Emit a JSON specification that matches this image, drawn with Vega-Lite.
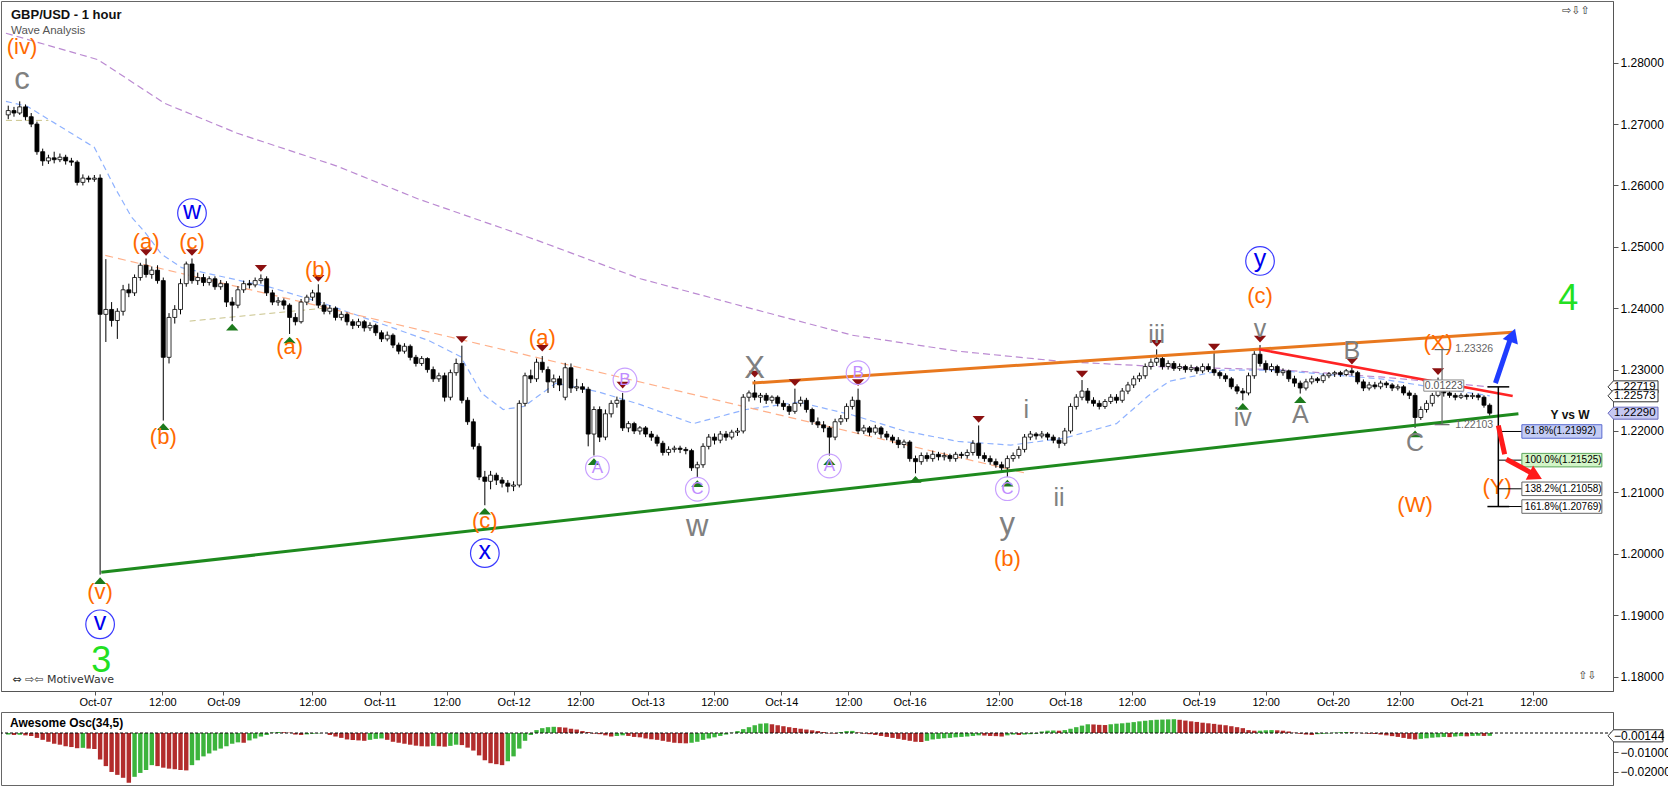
{
  "$schema": "https://vega.github.io/schema/vega-lite/v6.json",
  "padding": 0,
  "background": "#ffffff",
  "spacing": 3,
  "resolve": {"scale": {"color": "independent", "fill": "independent", "stroke": "independent"}},
  "config": {
    "view": {"stroke": "#666666"},
    "axis": {"labelFont": "Liberation Sans", "labelFontSize": 11, "labelColor": "#000000", "domainColor": "#555555", "tickColor": "#555555", "grid": false, "title": null},
    "text": {"font": "Liberation Sans"}
  },
  "datasets": {
    "bars": [
      {"i":-16,"o":1.2715,"h":1.2730,"l":1.2708,"c":1.2722,"ao":-0.0008},
      {"i":-15,"o":1.2722,"h":1.2728,"l":1.2712,"c":1.2718,"ao":-0.0010},
      {"i":-14,"o":1.2718,"h":1.2737,"l":1.2715,"c":1.2728,"ao":-0.0009},
      {"i":-13,"o":1.2728,"h":1.2732,"l":1.2706,"c":1.2712,"ao":-0.0012},
      {"i":-12,"o":1.2712,"h":1.2718,"l":1.2695,"c":1.2700,"ao":-0.0015},
      {"i":-11,"o":1.2700,"h":1.2704,"l":1.2650,"c":1.2655,"ao":-0.0025},
      {"i":-10,"o":1.2655,"h":1.2660,"l":1.2632,"c":1.2640,"ao":-0.0035},
      {"i":-9,"o":1.2640,"h":1.2650,"l":1.2635,"c":1.2645,"ao":-0.0045},
      {"i":-8,"o":1.2645,"h":1.2655,"l":1.2636,"c":1.2642,"ao":-0.0055},
      {"i":-7,"o":1.2642,"h":1.2652,"l":1.2638,"c":1.2646,"ao":-0.0060},
      {"i":-6,"o":1.2646,"h":1.2650,"l":1.2634,"c":1.2640,"ao":-0.0068},
      {"i":-5,"o":1.2640,"h":1.2645,"l":1.2632,"c":1.2638,"ao":-0.0072},
      {"i":-4,"o":1.2638,"h":1.2641,"l":1.2600,"c":1.2605,"ao":-0.0078},
      {"i":-3,"o":1.2605,"h":1.2618,"l":1.2600,"c":1.2612,"ao":-0.0076},
      {"i":-2,"o":1.2612,"h":1.2616,"l":1.2605,"c":1.2610,"ao":-0.0080},
      {"i":-1,"o":1.2610,"h":1.2617,"l":1.2606,"c":1.2612,"ao":-0.0082},
      {"i":0,"o":1.2612,"h":1.2618,"l":1.1966,"c":1.2390,"ao":-0.0136},
      {"i":1,"o":1.2390,"h":1.2480,"l":1.2345,"c":1.2398,"ao":-0.0170},
      {"i":2,"o":1.2398,"h":1.2410,"l":1.2370,"c":1.2380,"ao":-0.0200},
      {"i":3,"o":1.2380,"h":1.2400,"l":1.2350,"c":1.2395,"ao":-0.0215},
      {"i":4,"o":1.2395,"h":1.2438,"l":1.2388,"c":1.2430,"ao":-0.0230},
      {"i":5,"o":1.2430,"h":1.2440,"l":1.2418,"c":1.2425,"ao":-0.0255},
      {"i":6,"o":1.2425,"h":1.2455,"l":1.2420,"c":1.2450,"ao":-0.0225},
      {"i":7,"o":1.2450,"h":1.2474,"l":1.2445,"c":1.2470,"ao":-0.0205},
      {"i":8,"o":1.2470,"h":1.2481,"l":1.2450,"c":1.2455,"ao":-0.0190},
      {"i":9,"o":1.2455,"h":1.2468,"l":1.2448,"c":1.2462,"ao":-0.0165},
      {"i":10,"o":1.2462,"h":1.2470,"l":1.2440,"c":1.2445,"ao":-0.0170},
      {"i":11,"o":1.2445,"h":1.2450,"l":1.2217,"c":1.2320,"ao":-0.0178},
      {"i":12,"o":1.2320,"h":1.2392,"l":1.2310,"c":1.2385,"ao":-0.0183},
      {"i":13,"o":1.2385,"h":1.2405,"l":1.2375,"c":1.2398,"ao":-0.0186},
      {"i":14,"o":1.2398,"h":1.2448,"l":1.2390,"c":1.2440,"ao":-0.0190},
      {"i":15,"o":1.2440,"h":1.2476,"l":1.2435,"c":1.2472,"ao":-0.0192},
      {"i":16,"o":1.2472,"h":1.2481,"l":1.2440,"c":1.2445,"ao":-0.0165},
      {"i":17,"o":1.2445,"h":1.2458,"l":1.2438,"c":1.2450,"ao":-0.0140},
      {"i":18,"o":1.2450,"h":1.2456,"l":1.2436,"c":1.2442,"ao":-0.0120},
      {"i":19,"o":1.2442,"h":1.2452,"l":1.2437,"c":1.2448,"ao":-0.0105},
      {"i":20,"o":1.2448,"h":1.2452,"l":1.2430,"c":1.2435,"ao":-0.0090},
      {"i":21,"o":1.2435,"h":1.2446,"l":1.2430,"c":1.2440,"ao":-0.0080},
      {"i":22,"o":1.2440,"h":1.2444,"l":1.2402,"c":1.2410,"ao":-0.0068},
      {"i":23,"o":1.2410,"h":1.2418,"l":1.2379,"c":1.2405,"ao":-0.0055},
      {"i":24,"o":1.2405,"h":1.2436,"l":1.2400,"c":1.2430,"ao":-0.0048},
      {"i":25,"o":1.2430,"h":1.2445,"l":1.2425,"c":1.2440,"ao":-0.0050},
      {"i":26,"o":1.2440,"h":1.2446,"l":1.2432,"c":1.2438,"ao":-0.0038},
      {"i":27,"o":1.2438,"h":1.2450,"l":1.2434,"c":1.2445,"ao":-0.0028},
      {"i":28,"o":1.2445,"h":1.2455,"l":1.2440,"c":1.2448,"ao":-0.0018},
      {"i":29,"o":1.2448,"h":1.2452,"l":1.2420,"c":1.2425,"ao":-0.0010},
      {"i":30,"o":1.2425,"h":1.2430,"l":1.2405,"c":1.2410,"ao":0.0003},
      {"i":31,"o":1.2410,"h":1.2418,"l":1.2404,"c":1.2412,"ao":0.0005},
      {"i":32,"o":1.2412,"h":1.2416,"l":1.2398,"c":1.2405,"ao":0.0004},
      {"i":33,"o":1.2405,"h":1.2408,"l":1.2358,"c":1.2385,"ao":0.0002},
      {"i":34,"o":1.2385,"h":1.2392,"l":1.2372,"c":1.2378,"ao":-0.0008},
      {"i":35,"o":1.2378,"h":1.2415,"l":1.2375,"c":1.2410,"ao":-0.0010},
      {"i":36,"o":1.2410,"h":1.2422,"l":1.2405,"c":1.2418,"ao":-0.0007},
      {"i":37,"o":1.2418,"h":1.2430,"l":1.2412,"c":1.2425,"ao":-0.0004},
      {"i":38,"o":1.2425,"h":1.2439,"l":1.2400,"c":1.2405,"ao":-0.0002},
      {"i":39,"o":1.2405,"h":1.2410,"l":1.2390,"c":1.2395,"ao":0.0000},
      {"i":40,"o":1.2395,"h":1.2405,"l":1.2390,"c":1.2400,"ao":-0.0010},
      {"i":41,"o":1.2400,"h":1.2403,"l":1.2380,"c":1.2385,"ao":-0.0018},
      {"i":42,"o":1.2385,"h":1.2395,"l":1.2380,"c":1.2390,"ao":-0.0025},
      {"i":43,"o":1.2390,"h":1.2393,"l":1.2372,"c":1.2378,"ao":-0.0033},
      {"i":44,"o":1.2378,"h":1.2382,"l":1.2366,"c":1.2372,"ao":-0.0036},
      {"i":45,"o":1.2372,"h":1.2383,"l":1.2368,"c":1.2378,"ao":-0.0038},
      {"i":46,"o":1.2378,"h":1.2381,"l":1.2362,"c":1.2368,"ao":-0.0040},
      {"i":47,"o":1.2368,"h":1.2377,"l":1.2363,"c":1.2372,"ao":-0.0035},
      {"i":48,"o":1.2372,"h":1.2375,"l":1.2355,"c":1.2360,"ao":-0.0030},
      {"i":49,"o":1.2360,"h":1.2364,"l":1.2345,"c":1.2350,"ao":-0.0028},
      {"i":50,"o":1.2350,"h":1.2362,"l":1.2346,"c":1.2356,"ao":-0.0035},
      {"i":51,"o":1.2356,"h":1.2359,"l":1.2335,"c":1.2340,"ao":-0.0045},
      {"i":52,"o":1.2340,"h":1.2344,"l":1.2325,"c":1.2330,"ao":-0.0050},
      {"i":53,"o":1.2330,"h":1.2343,"l":1.2326,"c":1.2338,"ao":-0.0055},
      {"i":54,"o":1.2338,"h":1.2341,"l":1.2315,"c":1.2320,"ao":-0.0060},
      {"i":55,"o":1.2320,"h":1.2324,"l":1.2305,"c":1.2310,"ao":-0.0065},
      {"i":56,"o":1.2310,"h":1.2322,"l":1.2306,"c":1.2318,"ao":-0.0068},
      {"i":57,"o":1.2318,"h":1.2320,"l":1.2295,"c":1.2300,"ao":-0.0069},
      {"i":58,"o":1.2300,"h":1.2305,"l":1.2280,"c":1.2285,"ao":-0.0066},
      {"i":59,"o":1.2285,"h":1.2295,"l":1.2280,"c":1.2290,"ao":-0.0068},
      {"i":60,"o":1.2290,"h":1.2295,"l":1.2248,"c":1.2255,"ao":-0.0070},
      {"i":61,"o":1.2255,"h":1.2300,"l":1.2250,"c":1.2295,"ao":-0.0066},
      {"i":62,"o":1.2295,"h":1.2318,"l":1.2290,"c":1.2310,"ao":-0.0060},
      {"i":63,"o":1.2310,"h":1.2339,"l":1.2245,"c":1.2250,"ao":-0.0062},
      {"i":64,"o":1.2250,"h":1.2255,"l":1.2210,"c":1.2215,"ao":-0.0075},
      {"i":65,"o":1.2215,"h":1.2220,"l":1.2170,"c":1.2175,"ao":-0.0090},
      {"i":66,"o":1.2175,"h":1.2180,"l":1.2120,"c":1.2125,"ao":-0.0115},
      {"i":67,"o":1.2125,"h":1.2135,"l":1.2079,"c":1.2118,"ao":-0.0140},
      {"i":68,"o":1.2118,"h":1.2135,"l":1.2105,"c":1.2128,"ao":-0.0155},
      {"i":69,"o":1.2128,"h":1.2132,"l":1.2112,"c":1.2120,"ao":-0.0160},
      {"i":70,"o":1.2120,"h":1.2125,"l":1.2108,"c":1.2115,"ao":-0.0165},
      {"i":71,"o":1.2115,"h":1.2120,"l":1.2100,"c":1.2110,"ao":-0.0145},
      {"i":72,"o":1.2110,"h":1.2118,"l":1.2102,"c":1.2112,"ao":-0.0120},
      {"i":73,"o":1.2112,"h":1.2250,"l":1.2108,"c":1.2245,"ao":-0.0080},
      {"i":74,"o":1.2245,"h":1.2295,"l":1.2240,"c":1.2290,"ao":-0.0040},
      {"i":75,"o":1.2290,"h":1.2300,"l":1.2278,"c":1.2285,"ao":-0.0010},
      {"i":76,"o":1.2285,"h":1.2318,"l":1.2280,"c":1.2312,"ao":0.0015},
      {"i":77,"o":1.2312,"h":1.2322,"l":1.2295,"c":1.2300,"ao":0.0025},
      {"i":78,"o":1.2300,"h":1.2305,"l":1.2262,"c":1.2280,"ao":0.0030},
      {"i":79,"o":1.2280,"h":1.2292,"l":1.2270,"c":1.2285,"ao":0.0032},
      {"i":80,"o":1.2285,"h":1.2290,"l":1.2265,"c":1.2275,"ao":0.0030},
      {"i":81,"o":1.2255,"h":1.2311,"l":1.2250,"c":1.2303,"ao":0.0028},
      {"i":82,"o":1.2303,"h":1.2310,"l":1.2262,"c":1.2270,"ao":0.0022},
      {"i":83,"o":1.2270,"h":1.2285,"l":1.2265,"c":1.2272,"ao":0.0018},
      {"i":84,"o":1.2272,"h":1.2278,"l":1.2262,"c":1.2268,"ao":0.0010},
      {"i":85,"o":1.2268,"h":1.2272,"l":1.2175,"c":1.2195,"ao":0.0005},
      {"i":86,"o":1.2195,"h":1.2240,"l":1.2160,"c":1.2235,"ao":-0.0003},
      {"i":87,"o":1.2235,"h":1.2240,"l":1.2182,"c":1.2190,"ao":-0.0006},
      {"i":88,"o":1.2190,"h":1.2235,"l":1.2185,"c":1.2228,"ao":-0.0012},
      {"i":89,"o":1.2228,"h":1.2250,"l":1.2222,"c":1.2245,"ao":-0.0018},
      {"i":90,"o":1.2245,"h":1.2256,"l":1.2238,"c":1.2250,"ao":-0.0015},
      {"i":91,"o":1.2250,"h":1.2262,"l":1.2200,"c":1.2205,"ao":-0.0012},
      {"i":92,"o":1.2205,"h":1.2216,"l":1.2198,"c":1.2212,"ao":-0.0015},
      {"i":93,"o":1.2212,"h":1.2215,"l":1.2195,"c":1.2200,"ao":-0.0020},
      {"i":94,"o":1.2200,"h":1.2208,"l":1.2194,"c":1.2205,"ao":-0.0022},
      {"i":95,"o":1.2205,"h":1.2208,"l":1.2190,"c":1.2195,"ao":-0.0028},
      {"i":96,"o":1.2195,"h":1.2200,"l":1.2184,"c":1.2190,"ao":-0.0032},
      {"i":97,"o":1.2190,"h":1.2194,"l":1.2175,"c":1.2180,"ao":-0.0035},
      {"i":98,"o":1.2180,"h":1.2184,"l":1.2160,"c":1.2165,"ao":-0.0040},
      {"i":99,"o":1.2165,"h":1.2175,"l":1.2160,"c":1.2170,"ao":-0.0045},
      {"i":100,"o":1.2170,"h":1.2176,"l":1.2165,"c":1.2172,"ao":-0.0050},
      {"i":101,"o":1.2172,"h":1.2176,"l":1.2164,"c":1.2170,"ao":-0.0052},
      {"i":102,"o":1.2170,"h":1.2174,"l":1.2162,"c":1.2168,"ao":-0.0053},
      {"i":103,"o":1.2168,"h":1.2171,"l":1.2135,"c":1.2140,"ao":-0.0050},
      {"i":104,"o":1.2140,"h":1.2150,"l":1.2124,"c":1.2145,"ao":-0.0045},
      {"i":105,"o":1.2145,"h":1.2180,"l":1.2140,"c":1.2175,"ao":-0.0035},
      {"i":106,"o":1.2175,"h":1.2195,"l":1.2170,"c":1.2190,"ao":-0.0028},
      {"i":107,"o":1.2190,"h":1.2196,"l":1.2178,"c":1.2185,"ao":-0.0022},
      {"i":108,"o":1.2185,"h":1.2200,"l":1.2180,"c":1.2195,"ao":-0.0015},
      {"i":109,"o":1.2195,"h":1.2200,"l":1.2184,"c":1.2190,"ao":-0.0008},
      {"i":110,"o":1.2190,"h":1.2202,"l":1.2186,"c":1.2198,"ao":0.0002},
      {"i":111,"o":1.2198,"h":1.2205,"l":1.2192,"c":1.2200,"ao":0.0010},
      {"i":112,"o":1.2200,"h":1.2260,"l":1.2196,"c":1.2255,"ao":0.0020},
      {"i":113,"o":1.2255,"h":1.2266,"l":1.2248,"c":1.2262,"ao":0.0030},
      {"i":114,"o":1.2262,"h":1.2283,"l":1.2250,"c":1.2255,"ao":0.0040},
      {"i":115,"o":1.2255,"h":1.2262,"l":1.2246,"c":1.2258,"ao":0.0048},
      {"i":116,"o":1.2258,"h":1.2262,"l":1.2244,"c":1.2250,"ao":0.0050},
      {"i":117,"o":1.2250,"h":1.2258,"l":1.2245,"c":1.2255,"ao":0.0045},
      {"i":118,"o":1.2255,"h":1.2258,"l":1.2240,"c":1.2245,"ao":0.0040},
      {"i":119,"o":1.2245,"h":1.2250,"l":1.2234,"c":1.2240,"ao":0.0035},
      {"i":120,"o":1.2240,"h":1.2244,"l":1.2226,"c":1.2232,"ao":0.0030},
      {"i":121,"o":1.2232,"h":1.2269,"l":1.2228,"c":1.2245,"ao":0.0026},
      {"i":122,"o":1.2245,"h":1.2256,"l":1.2240,"c":1.2250,"ao":0.0022},
      {"i":123,"o":1.2250,"h":1.2254,"l":1.2230,"c":1.2235,"ao":0.0018},
      {"i":124,"o":1.2235,"h":1.2238,"l":1.2210,"c":1.2215,"ao":0.0014},
      {"i":125,"o":1.2215,"h":1.2222,"l":1.2205,"c":1.2210,"ao":0.0010},
      {"i":126,"o":1.2210,"h":1.2216,"l":1.2198,"c":1.2205,"ao":0.0005},
      {"i":127,"o":1.2205,"h":1.2208,"l":1.2160,"c":1.2190,"ao":-0.0002},
      {"i":128,"o":1.2190,"h":1.2220,"l":1.2185,"c":1.2215,"ao":-0.0003},
      {"i":129,"o":1.2215,"h":1.2226,"l":1.2210,"c":1.2220,"ao":0.0005},
      {"i":130,"o":1.2220,"h":1.2245,"l":1.2215,"c":1.2240,"ao":0.0010},
      {"i":131,"o":1.2240,"h":1.2256,"l":1.2235,"c":1.2250,"ao":0.0011},
      {"i":132,"o":1.2250,"h":1.2269,"l":1.2195,"c":1.2200,"ao":0.0003},
      {"i":133,"o":1.2200,"h":1.2210,"l":1.2195,"c":1.2205,"ao":-0.0003},
      {"i":134,"o":1.2205,"h":1.2208,"l":1.2192,"c":1.2198,"ao":-0.0006},
      {"i":135,"o":1.2198,"h":1.2210,"l":1.2194,"c":1.2205,"ao":-0.0010},
      {"i":136,"o":1.2205,"h":1.2208,"l":1.2188,"c":1.2195,"ao":-0.0015},
      {"i":137,"o":1.2195,"h":1.2200,"l":1.2185,"c":1.2190,"ao":-0.0020},
      {"i":138,"o":1.2190,"h":1.2194,"l":1.2180,"c":1.2185,"ao":-0.0025},
      {"i":139,"o":1.2185,"h":1.2190,"l":1.2172,"c":1.2178,"ao":-0.0030},
      {"i":140,"o":1.2178,"h":1.2186,"l":1.2172,"c":1.2182,"ao":-0.0035},
      {"i":141,"o":1.2182,"h":1.2185,"l":1.2150,"c":1.2155,"ao":-0.0040},
      {"i":142,"o":1.2155,"h":1.2160,"l":1.2131,"c":1.2150,"ao":-0.0045},
      {"i":143,"o":1.2150,"h":1.2165,"l":1.2145,"c":1.2160,"ao":-0.0046},
      {"i":144,"o":1.2160,"h":1.2165,"l":1.2150,"c":1.2155,"ao":-0.0040},
      {"i":145,"o":1.2155,"h":1.2168,"l":1.2150,"c":1.2162,"ao":-0.0033},
      {"i":146,"o":1.2162,"h":1.2166,"l":1.2152,"c":1.2158,"ao":-0.0030},
      {"i":147,"o":1.2158,"h":1.2165,"l":1.2152,"c":1.2160,"ao":-0.0027},
      {"i":148,"o":1.2160,"h":1.2163,"l":1.2150,"c":1.2155,"ao":-0.0025},
      {"i":149,"o":1.2155,"h":1.2166,"l":1.2150,"c":1.2162,"ao":-0.0022},
      {"i":150,"o":1.2162,"h":1.2166,"l":1.2155,"c":1.2160,"ao":-0.0020},
      {"i":151,"o":1.2160,"h":1.2170,"l":1.2155,"c":1.2165,"ao":-0.0018},
      {"i":152,"o":1.2165,"h":1.2185,"l":1.2160,"c":1.2180,"ao":-0.0015},
      {"i":153,"o":1.2180,"h":1.2209,"l":1.2155,"c":1.2160,"ao":-0.0012},
      {"i":154,"o":1.2160,"h":1.2165,"l":1.2150,"c":1.2155,"ao":-0.0013},
      {"i":155,"o":1.2155,"h":1.2160,"l":1.2145,"c":1.2150,"ao":-0.0015},
      {"i":156,"o":1.2150,"h":1.2155,"l":1.2140,"c":1.2145,"ao":-0.0016},
      {"i":157,"o":1.2145,"h":1.2150,"l":1.2135,"c":1.2140,"ao":-0.0018},
      {"i":158,"o":1.2140,"h":1.2160,"l":1.2125,"c":1.2155,"ao":-0.0012},
      {"i":159,"o":1.2155,"h":1.2165,"l":1.2150,"c":1.2160,"ao":-0.0008},
      {"i":160,"o":1.2160,"h":1.2175,"l":1.2155,"c":1.2170,"ao":-0.0010},
      {"i":161,"o":1.2170,"h":1.2195,"l":1.2165,"c":1.2190,"ao":-0.0008},
      {"i":162,"o":1.2190,"h":1.2200,"l":1.2185,"c":1.2195,"ao":-0.0006},
      {"i":163,"o":1.2195,"h":1.2198,"l":1.2186,"c":1.2192,"ao":-0.0004},
      {"i":164,"o":1.2192,"h":1.2200,"l":1.2188,"c":1.2195,"ao":0.0008},
      {"i":165,"o":1.2195,"h":1.2198,"l":1.2185,"c":1.2190,"ao":0.0012},
      {"i":166,"o":1.2190,"h":1.2194,"l":1.2180,"c":1.2185,"ao":0.0013},
      {"i":167,"o":1.2185,"h":1.2190,"l":1.2172,"c":1.2180,"ao":0.0012},
      {"i":168,"o":1.2180,"h":1.2205,"l":1.2176,"c":1.2200,"ao":0.0015},
      {"i":169,"o":1.2200,"h":1.2245,"l":1.2196,"c":1.2240,"ao":0.0022},
      {"i":170,"o":1.2240,"h":1.2260,"l":1.2235,"c":1.2255,"ao":0.0030},
      {"i":171,"o":1.2255,"h":1.2283,"l":1.2250,"c":1.2265,"ao":0.0038},
      {"i":172,"o":1.2265,"h":1.2270,"l":1.2245,"c":1.2250,"ao":0.0045},
      {"i":173,"o":1.2250,"h":1.2255,"l":1.2240,"c":1.2245,"ao":0.0044},
      {"i":174,"o":1.2245,"h":1.2250,"l":1.2235,"c":1.2240,"ao":0.0042},
      {"i":175,"o":1.2240,"h":1.2252,"l":1.2236,"c":1.2248,"ao":0.0041},
      {"i":176,"o":1.2248,"h":1.2260,"l":1.2244,"c":1.2255,"ao":0.0045},
      {"i":177,"o":1.2255,"h":1.2260,"l":1.2245,"c":1.2250,"ao":0.0048},
      {"i":178,"o":1.2250,"h":1.2270,"l":1.2246,"c":1.2265,"ao":0.0050},
      {"i":179,"o":1.2265,"h":1.2280,"l":1.2260,"c":1.2275,"ao":0.0053},
      {"i":180,"o":1.2275,"h":1.2290,"l":1.2270,"c":1.2285,"ao":0.0056},
      {"i":181,"o":1.2285,"h":1.2295,"l":1.2280,"c":1.2290,"ao":0.0060},
      {"i":182,"o":1.2290,"h":1.2310,"l":1.2285,"c":1.2305,"ao":0.0063},
      {"i":183,"o":1.2305,"h":1.2318,"l":1.2300,"c":1.2312,"ao":0.0066},
      {"i":184,"o":1.2312,"h":1.2333,"l":1.2306,"c":1.2318,"ao":0.0068},
      {"i":185,"o":1.2318,"h":1.2322,"l":1.2300,"c":1.2305,"ao":0.0069},
      {"i":186,"o":1.2305,"h":1.2315,"l":1.2300,"c":1.2310,"ao":0.0070},
      {"i":187,"o":1.2310,"h":1.2314,"l":1.2298,"c":1.2302,"ao":0.0071},
      {"i":188,"o":1.2302,"h":1.2310,"l":1.2298,"c":1.2305,"ao":0.0068},
      {"i":189,"o":1.2305,"h":1.2308,"l":1.2295,"c":1.2300,"ao":0.0064},
      {"i":190,"o":1.2300,"h":1.2308,"l":1.2296,"c":1.2303,"ao":0.0060},
      {"i":191,"o":1.2303,"h":1.2306,"l":1.2293,"c":1.2298,"ao":0.0057},
      {"i":192,"o":1.2298,"h":1.2310,"l":1.2294,"c":1.2305,"ao":0.0053},
      {"i":193,"o":1.2305,"h":1.2310,"l":1.2296,"c":1.2300,"ao":0.0050},
      {"i":194,"o":1.2300,"h":1.2327,"l":1.2290,"c":1.2295,"ao":0.0047},
      {"i":195,"o":1.2295,"h":1.2298,"l":1.2285,"c":1.2290,"ao":0.0043},
      {"i":196,"o":1.2290,"h":1.2294,"l":1.2280,"c":1.2285,"ao":0.0040},
      {"i":197,"o":1.2285,"h":1.2288,"l":1.2268,"c":1.2272,"ao":0.0035},
      {"i":198,"o":1.2272,"h":1.2276,"l":1.2260,"c":1.2265,"ao":0.0030},
      {"i":199,"o":1.2265,"h":1.2270,"l":1.2250,"c":1.2262,"ao":0.0025},
      {"i":200,"o":1.2262,"h":1.2295,"l":1.2258,"c":1.2290,"ao":0.0015},
      {"i":201,"o":1.2290,"h":1.2330,"l":1.2285,"c":1.2325,"ao":0.0012},
      {"i":202,"o":1.2325,"h":1.2340,"l":1.2305,"c":1.2310,"ao":0.0012},
      {"i":203,"o":1.2310,"h":1.2315,"l":1.2295,"c":1.2300,"ao":0.0014},
      {"i":204,"o":1.2300,"h":1.2310,"l":1.2296,"c":1.2305,"ao":0.0015},
      {"i":205,"o":1.2305,"h":1.2308,"l":1.2290,"c":1.2295,"ao":0.0014},
      {"i":206,"o":1.2295,"h":1.2302,"l":1.2290,"c":1.2298,"ao":0.0012},
      {"i":207,"o":1.2298,"h":1.2300,"l":1.2280,"c":1.2285,"ao":0.0008},
      {"i":208,"o":1.2285,"h":1.2290,"l":1.2272,"c":1.2278,"ao":0.0002},
      {"i":209,"o":1.2278,"h":1.2282,"l":1.2261,"c":1.2270,"ao":-0.0004},
      {"i":210,"o":1.2270,"h":1.2285,"l":1.2266,"c":1.2280,"ao":-0.0008},
      {"i":211,"o":1.2280,"h":1.2290,"l":1.2276,"c":1.2285,"ao":-0.0010},
      {"i":212,"o":1.2285,"h":1.2288,"l":1.2278,"c":1.2282,"ao":-0.0006},
      {"i":213,"o":1.2282,"h":1.2294,"l":1.2278,"c":1.2290,"ao":-0.0004},
      {"i":214,"o":1.2290,"h":1.2296,"l":1.2286,"c":1.2293,"ao":-0.0002},
      {"i":215,"o":1.2293,"h":1.2298,"l":1.2288,"c":1.2295,"ao":0.0002},
      {"i":216,"o":1.2295,"h":1.2298,"l":1.2288,"c":1.2292,"ao":0.0004},
      {"i":217,"o":1.2292,"h":1.2301,"l":1.2289,"c":1.2298,"ao":0.0005},
      {"i":218,"o":1.2298,"h":1.2304,"l":1.2290,"c":1.2295,"ao":0.0004},
      {"i":219,"o":1.2295,"h":1.2298,"l":1.2276,"c":1.2280,"ao":0.0001},
      {"i":220,"o":1.2280,"h":1.2284,"l":1.2265,"c":1.2270,"ao":-0.0002},
      {"i":221,"o":1.2270,"h":1.2280,"l":1.2266,"c":1.2275,"ao":-0.0004},
      {"i":222,"o":1.2275,"h":1.2280,"l":1.2268,"c":1.2272,"ao":-0.0005},
      {"i":223,"o":1.2272,"h":1.2282,"l":1.2268,"c":1.2278,"ao":-0.0008},
      {"i":224,"o":1.2278,"h":1.2281,"l":1.2270,"c":1.2275,"ao":-0.0012},
      {"i":225,"o":1.2275,"h":1.2278,"l":1.2265,"c":1.2270,"ao":-0.0016},
      {"i":226,"o":1.2270,"h":1.2276,"l":1.2266,"c":1.2272,"ao":-0.0020},
      {"i":227,"o":1.2272,"h":1.2275,"l":1.2258,"c":1.2262,"ao":-0.0025},
      {"i":228,"o":1.2262,"h":1.2266,"l":1.2252,"c":1.2258,"ao":-0.0030},
      {"i":229,"o":1.2258,"h":1.2262,"l":1.2205,"c":1.2222,"ao":-0.0033},
      {"i":230,"o":1.2222,"h":1.2240,"l":1.2218,"c":1.2235,"ao":-0.0030},
      {"i":231,"o":1.2235,"h":1.2250,"l":1.2230,"c":1.2245,"ao":-0.0027},
      {"i":232,"o":1.2245,"h":1.2262,"l":1.2240,"c":1.2258,"ao":-0.0024},
      {"i":233,"o":1.2258,"h":1.2287,"l":1.2255,"c":1.2270,"ao":-0.0022},
      {"i":234,"o":1.2270,"h":1.2274,"l":1.2256,"c":1.2262,"ao":-0.0020},
      {"i":235,"o":1.2262,"h":1.2266,"l":1.2254,"c":1.2258,"ao":-0.0021},
      {"i":236,"o":1.2258,"h":1.2262,"l":1.2250,"c":1.2255,"ao":-0.0018},
      {"i":237,"o":1.2255,"h":1.2262,"l":1.2252,"c":1.2258,"ao":-0.0016},
      {"i":238,"o":1.2258,"h":1.2261,"l":1.2251,"c":1.2256,"ao":-0.0017},
      {"i":239,"o":1.2256,"h":1.2262,"l":1.2252,"c":1.2258,"ao":-0.0015},
      {"i":240,"o":1.2258,"h":1.2261,"l":1.2250,"c":1.2255,"ao":-0.0014},
      {"i":241,"o":1.2255,"h":1.2258,"l":1.2238,"c":1.2242,"ao":-0.0015},
      {"i":242,"o":1.2242,"h":1.2245,"l":1.2225,"c":1.2229,"ao":-0.00144}
    ],
    "ma": [
      {"i":-16.4,"v":1.2848,"k":"slow"},{"i":-0.4,"v":1.2805,"k":"slow"},{"i":11.2,"v":1.2734,"k":"slow"},{"i":23.9,"v":1.2685,"k":"slow"},
      {"i":41.1,"v":1.2632,"k":"slow"},{"i":55.4,"v":1.2578,"k":"slow"},{"i":75.7,"v":1.2512,"k":"slow"},{"i":94.1,"v":1.2448,"k":"slow"},
      {"i":113.6,"v":1.2399,"k":"slow"},{"i":131,"v":1.2356,"k":"slow"},{"i":149.4,"v":1.2330,"k":"slow"},{"i":167.8,"v":1.2313,"k":"slow"},
      {"i":186.2,"v":1.2304,"k":"slow"},{"i":204.6,"v":1.2300,"k":"slow"},{"i":223,"v":1.2288,"k":"slow"},{"i":242,"v":1.22719,"k":"slow"},
      {"i":-16.4,"v":1.2737,"k":"fast"},{"i":-12.7,"v":1.2729,"k":"fast"},{"i":-1,"v":1.2662,"k":"fast"},{"i":2.6,"v":1.2596,"k":"fast"},
      {"i":5.5,"v":1.2548,"k":"fast"},{"i":7.7,"v":1.2525,"k":"fast"},{"i":10.7,"v":1.2488,"k":"fast"},{"i":14.2,"v":1.2466,"k":"fast"},
      {"i":29.7,"v":1.2434,"k":"fast"},{"i":38.9,"v":1.2408,"k":"fast"},{"i":57.3,"v":1.2347,"k":"fast"},{"i":62.8,"v":1.2321,"k":"fast"},
      {"i":66.5,"v":1.2261,"k":"fast"},{"i":70.2,"v":1.2235,"k":"fast"},{"i":73.8,"v":1.2240,"k":"fast"},{"i":79.4,"v":1.2278,"k":"fast"},
      {"i":86.7,"v":1.2264,"k":"fast"},{"i":94.1,"v":1.2243,"k":"fast"},{"i":103.3,"v":1.2212,"k":"fast"},{"i":112.5,"v":1.2235,"k":"fast"},
      {"i":121.7,"v":1.2247,"k":"fast"},{"i":131,"v":1.2226,"k":"fast"},{"i":140.1,"v":1.2200,"k":"fast"},{"i":149.4,"v":1.2183,"k":"fast"},
      {"i":158.6,"v":1.2177,"k":"fast"},{"i":167.8,"v":1.2188,"k":"fast"},{"i":177,"v":1.2212,"k":"fast"},{"i":182.5,"v":1.2257,"k":"fast"},
      {"i":186.2,"v":1.2281,"k":"fast"},{"i":195.4,"v":1.2299,"k":"fast"},{"i":204.6,"v":1.2299,"k":"fast"},{"i":213.8,"v":1.2292,"k":"fast"},
      {"i":223,"v":1.2285,"k":"fast"},{"i":232.2,"v":1.2271,"k":"fast"},{"i":242,"v":1.22573,"k":"fast"}
    ],
    "segs": [
      {"i":0.2,"p":1.1970,"i2":247,"p2":1.2228,"k":"support"},
      {"i":113.6,"p":1.2278,"i2":246,"p2":1.2361,"k":"resist"},
      {"i":201.8,"p":1.2333,"i2":246,"p2":1.2257,"k":"red"},
      {"i":0.9,"p":1.2486,"i2":161.3,"p2":1.2131,"k":"dash"},
      {"i":-16.4,"p":1.2706,"i2":-9,"p2":1.2706,"k":"olive"},
      {"i":15.6,"p":1.2379,"i2":38.9,"p2":1.2400,"k":"olive"},
      {"i":243.5,"p":1.20769,"i2":243.5,"p2":1.22719,"k":"fib"},
      {"i":241.6,"p":1.22719,"i2":245.4,"p2":1.22719,"k":"fib"},
      {"i":241.6,"p":1.20769,"i2":245.4,"p2":1.20769,"k":"fib"},
      {"i":233.7,"p":1.22103,"i2":233.7,"p2":1.23326,"k":"meas"},
      {"i":232.4,"p":1.23326,"i2":235,"p2":1.23326,"k":"meas"},
      {"i":232.4,"p":1.22103,"i2":235,"p2":1.22103,"k":"meas"},
      {"i":243,"p":1.2278,"i2":245.6,"p2":1.2350,"k":"arrowb"},
      {"i":243.5,"p":1.2209,"i2":244.6,"p2":1.2162,"k":"arrowr"},
      {"i":244.9,"p":1.2154,"i2":249.4,"p2":1.2131,"k":"arrowr"}
    ],
    "heads": [
      {"i":246.0,"p":1.2356,"a":20,"k":"b"},
      {"i":250.0,"p":1.2127,"a":117,"k":"r"}
    ],
    "pivots": [
      {"i":8,"p":1.2481,"k":"hi"},{"i":16,"p":1.2481,"k":"hi"},{"i":28,"p":1.2455,"k":"hi"},{"i":38,"p":1.2439,"k":"hi"},
      {"i":63,"p":1.2339,"k":"hi"},{"i":77,"p":1.2325,"k":"hi"},{"i":91,"p":1.2265,"k":"hi"},{"i":114,"p":1.2283,"k":"hi"},
      {"i":121,"p":1.2269,"k":"hi"},{"i":132,"p":1.2269,"k":"hi"},{"i":153,"p":1.2209,"k":"hi"},{"i":171,"p":1.2283,"k":"hi"},
      {"i":184,"p":1.2333,"k":"hi"},{"i":194,"p":1.2327,"k":"hi"},{"i":202,"p":1.2340,"k":"hi"},{"i":218,"p":1.2304,"k":"hi"},
      {"i":233,"p":1.2287,"k":"hi"},
      {"i":0,"p":1.1966,"k":"lo"},{"i":11,"p":1.2217,"k":"lo"},{"i":23,"p":1.2379,"k":"lo"},{"i":33,"p":1.2358,"k":"lo"},
      {"i":67,"p":1.2079,"k":"lo"},{"i":86,"p":1.2160,"k":"lo"},{"i":104,"p":1.2124,"k":"lo"},{"i":127,"p":1.2160,"k":"lo"},
      {"i":142,"p":1.2131,"k":"lo"},{"i":158,"p":1.2125,"k":"lo"},{"i":199,"p":1.2250,"k":"lo"},{"i":209,"p":1.2261,"k":"lo"},
      {"i":229,"p":1.2205,"k":"lo"}
    ],
    "labels": [
      {"i":-13.6,"p":1.2825,"t":"(iv)","k":"o"},
      {"i":8,"p":1.2508,"t":"(a)","k":"o"},
      {"i":16,"p":1.2508,"t":"(c)","k":"o"},
      {"i":11,"p":1.2191,"t":"(b)","k":"o"},
      {"i":33,"p":1.2337,"t":"(a)","k":"o"},
      {"i":38,"p":1.2463,"t":"(b)","k":"o"},
      {"i":77,"p":1.2352,"t":"(a)","k":"o"},
      {"i":67,"p":1.2053,"t":"(c)","k":"o"},
      {"i":0,"p":1.1937,"t":"(v)","k":"o"},
      {"i":158,"p":1.1992,"t":"(b)","k":"o"},
      {"i":202,"p":1.2420,"t":"(c)","k":"o"},
      {"i":229,"p":1.2080,"t":"(W)","k":"o"},
      {"i":233,"p":1.2344,"t":"(X)","k":"o"},
      {"i":243.3,"p":1.2108,"t":"(Y)","k":"o"},
      {"i":-13.6,"p":1.2772,"t":"c","k":"g"},
      {"i":114,"p":1.2301,"t":"X","k":"g"},
      {"i":104,"p":1.2044,"t":"w","k":"g"},
      {"i":158,"p":1.2047,"t":"y","k":"g"},
      {"i":161.3,"p":1.2235,"t":"i","k":"g2"},
      {"i":167,"p":1.2091,"t":"ii","k":"g2"},
      {"i":184,"p":1.2356,"t":"iii","k":"g2"},
      {"i":199,"p":1.2221,"t":"iv","k":"g2"},
      {"i":202,"p":1.2366,"t":"v","k":"g2"},
      {"i":209,"p":1.2226,"t":"A","k":"g2"},
      {"i":218,"p":1.2330,"t":"B","k":"g2"},
      {"i":229,"p":1.2181,"t":"C","k":"g2"},
      {"i":16,"p":1.2555,"t":"w","k":"b"},
      {"i":67,"p":1.2001,"t":"x","k":"b"},
      {"i":0,"p":1.1885,"t":"v","k":"b"},
      {"i":202,"p":1.2477,"t":"y","k":"b"},
      {"i":86.6,"p":1.2140,"t":"A","k":"p"},
      {"i":91.4,"p":1.2283,"t":"B","k":"p"},
      {"i":104,"p":1.2105,"t":"C","k":"p"},
      {"i":127,"p":1.2143,"t":"A","k":"p"},
      {"i":132,"p":1.2295,"t":"B","k":"p"},
      {"i":158,"p":1.2106,"t":"C","k":"p"},
      {"i":0.2,"p":1.1825,"t":"3","k":"gr"},
      {"i":255.7,"p":1.2415,"t":"4","k":"gr"},
      {"i":236,"p":1.2333,"t":"1.23326","k":"m"},
      {"i":236,"p":1.2210,"t":"1.22103","k":"m"},
      {"i":234,"p":1.2274,"t":"0.01223","k":"mbox"},
      {"i":256,"p":1.2226,"t":"Y vs W","k":"yw"},
      {"i":-15.3,"p":1.1794,"t":"⇔ ⇨⇦ MotiveWave","k":"mw"},
      {"i":254.6,"p":1.2885,"t":"⇨⇩⇧","k":"mw"},
      {"i":257.4,"p":1.1801,"t":"⇧⇩","k":"mw"}
    ],
    "fib": [
      {"p":1.21992,"t":"61.8%(1.21992)","k":"b"},
      {"p":1.21525,"t":"100.0%(1.21525)","k":"g"},
      {"p":1.21058,"t":"138.2%(1.21058)","k":"w"},
      {"p":1.20769,"t":"161.8%(1.20769)","k":"w"}
    ]
  },
  "vconcat": [
    {
      "width": 1612,
      "height": 690,
      "title": {"text": "GBP/USD - 1 hour", "subtitle": "Wave Analysis", "anchor": "start", "frame": "group", "offset": -35, "dx": 10, "font": "Liberation Sans", "fontSize": 13, "fontWeight": "bold", "color": "#111111", "subtitleFont": "Liberation Sans", "subtitleFontSize": 11.5, "subtitleColor": "#555555", "subtitlePadding": 3},
      "layer": [
        {
          "data": {"name": "ma"},
          "transform": [{"filter": "datum.k == 'slow'"}],
          "mark": {"type": "line", "color": "#bb8ad2", "strokeWidth": 1.2, "strokeDash": [7, 4]},
          "encoding": {
            "x": {"field": "i", "type": "quantitative", "scale": {"domain": [-16.39, 262.6], "nice": false, "zero": false},
              "axis": {"title": null, "values": [-0.81, 10.84, 21.46, 36.97, 48.69, 60.34, 72.01, 83.61, 95.38, 106.98, 118.63, 130.28, 140.96, 156.54, 168.08, 179.68, 191.33, 202.98, 214.7, 226.35, 238.01, 249.61],
                "labelExpr": "['Oct-07','12:00','Oct-09','12:00','Oct-11','12:00','Oct-12','12:00','Oct-13','12:00','Oct-14','12:00','Oct-16','12:00','Oct-18','12:00','Oct-19','12:00','Oct-20','12:00','Oct-21','12:00'][indexof([-0.81, 10.84, 21.46, 36.97, 48.69, 60.34, 72.01, 83.61, 95.38, 106.98, 118.63, 130.28, 140.96, 156.54, 168.08, 179.68, 191.33, 202.98, 214.7, 226.35, 238.01, 249.61], datum.value)]",
                "labelOverlap": false, "tickSize": 4, "labelPadding": 1}},
            "y": {"field": "v", "type": "quantitative", "scale": {"domain": [1.17764, 1.29005], "nice": false, "zero": false},
              "axis": {"title": null, "orient": "right", "labelOverlap": false, "labelPadding": 2, "tickSize": 5, "labelFontSize": 12,
                "values": [1.18, 1.19, 1.2, 1.21, 1.22, 1.23, 1.24, 1.25, 1.26, 1.27, 1.28], "format": ".5f"}}
          }
        },
        {
          "data": {"name": "ma"},
          "transform": [{"filter": "datum.k == 'fast'"}],
          "mark": {"type": "line", "color": "#8fb2ff", "strokeWidth": 1.2, "strokeDash": [6, 4]},
          "encoding": {"x": {"field": "i", "type": "quantitative"}, "y": {"field": "v", "type": "quantitative"}}
        },
        {
          "data": {"name": "segs"},
          "transform": [{"filter": "datum.k == 'dash'"}],
          "mark": {"type": "rule", "color": "#ffb08a", "strokeWidth": 1.2, "strokeDash": [8, 5]},
          "encoding": {"x": {"field": "i", "type": "quantitative"}, "x2": {"field": "i2"}, "y": {"field": "p", "type": "quantitative"}, "y2": {"field": "p2"}}
        },
        {
          "data": {"name": "segs"},
          "transform": [{"filter": "datum.k == 'olive'"}],
          "mark": {"type": "rule", "color": "#c9c38a", "strokeWidth": 1, "strokeDash": [6, 4]},
          "encoding": {"x": {"field": "i", "type": "quantitative"}, "x2": {"field": "i2"}, "y": {"field": "p", "type": "quantitative"}, "y2": {"field": "p2"}}
        },
        {
          "data": {"name": "bars"},
          "mark": {"type": "rule", "color": "#000000", "strokeWidth": 1},
          "encoding": {"x": {"field": "i", "type": "quantitative"}, "y": {"field": "l", "type": "quantitative"}, "y2": {"field": "h"}}
        },
        {
          "data": {"name": "bars"},
          "mark": {"type": "bar", "width": 4, "stroke": "#000000", "strokeWidth": 0.8},
          "encoding": {
            "x": {"field": "i", "type": "quantitative"},
            "y": {"field": "o", "type": "quantitative"},
            "y2": {"field": "c"},
            "fill": {"condition": {"test": "datum.c >= datum.o", "value": "#ffffff"}, "value": "#000000"}
          }
        },
        {
          "data": {"name": "segs"},
          "transform": [{"filter": "datum.k == 'support'"}],
          "mark": {"type": "rule", "color": "#1e8a1e", "strokeWidth": 3},
          "encoding": {"x": {"field": "i", "type": "quantitative"}, "x2": {"field": "i2"}, "y": {"field": "p", "type": "quantitative"}, "y2": {"field": "p2"}}
        },
        {
          "data": {"name": "segs"},
          "transform": [{"filter": "datum.k == 'resist'"}],
          "mark": {"type": "rule", "color": "#e8781e", "strokeWidth": 3},
          "encoding": {"x": {"field": "i", "type": "quantitative"}, "x2": {"field": "i2"}, "y": {"field": "p", "type": "quantitative"}, "y2": {"field": "p2"}}
        },
        {
          "data": {"name": "segs"},
          "transform": [{"filter": "datum.k == 'red'"}],
          "mark": {"type": "rule", "color": "#ff2424", "strokeWidth": 2.5},
          "encoding": {"x": {"field": "i", "type": "quantitative"}, "x2": {"field": "i2"}, "y": {"field": "p", "type": "quantitative"}, "y2": {"field": "p2"}}
        },
        {
          "data": {"name": "pivots"},
          "transform": [{"filter": "datum.k == 'hi'"}],
          "mark": {"type": "point", "shape": "M-1,-0.55L1,-0.55L0,0.55Z", "filled": true, "size": 150, "color": "#8b1010", "opacity": 1, "yOffset": -6},
          "encoding": {"x": {"field": "i", "type": "quantitative"}, "y": {"field": "p", "type": "quantitative"}}
        },
        {
          "data": {"name": "pivots"},
          "transform": [{"filter": "datum.k == 'lo'"}],
          "mark": {"type": "point", "shape": "M-1,0.55L1,0.55L0,-0.55Z", "filled": true, "size": 150, "color": "#1c7a1c", "opacity": 1, "yOffset": 6},
          "encoding": {"x": {"field": "i", "type": "quantitative"}, "y": {"field": "p", "type": "quantitative"}}
        },
        {
          "data": {"name": "labels"},
          "transform": [{"filter": "datum.k == 'b'"}],
          "mark": {"type": "point", "shape": "circle", "filled": false, "size": 820, "color": "#3b3bff", "strokeWidth": 1.2, "opacity": 1},
          "encoding": {"x": {"field": "i", "type": "quantitative"}, "y": {"field": "p", "type": "quantitative"}}
        },
        {
          "data": {"name": "labels"},
          "transform": [{"filter": "datum.k == 'p'"}],
          "mark": {"type": "point", "shape": "circle", "filled": false, "size": 560, "color": "#c8a0ff", "strokeWidth": 1.2, "opacity": 1},
          "encoding": {"x": {"field": "i", "type": "quantitative"}, "y": {"field": "p", "type": "quantitative"}}
        },
        {
          "data": {"name": "labels"},
          "transform": [{"filter": "datum.k == 'o'"}],
          "mark": {"type": "text", "fontSize": 22, "color": "#ff6a00", "align": "center", "baseline": "middle"},
          "encoding": {"x": {"field": "i", "type": "quantitative"}, "y": {"field": "p", "type": "quantitative"}, "text": {"field": "t"}}
        },
        {
          "data": {"name": "labels"},
          "transform": [{"filter": "datum.k == 'g'"}],
          "mark": {"type": "text", "fontSize": 31, "color": "#808080", "align": "center", "baseline": "middle"},
          "encoding": {"x": {"field": "i", "type": "quantitative"}, "y": {"field": "p", "type": "quantitative"}, "text": {"field": "t"}}
        },
        {
          "data": {"name": "labels"},
          "transform": [{"filter": "datum.k == 'g2'"}],
          "mark": {"type": "text", "fontSize": 25, "color": "#808080", "align": "center", "baseline": "middle"},
          "encoding": {"x": {"field": "i", "type": "quantitative"}, "y": {"field": "p", "type": "quantitative"}, "text": {"field": "t"}}
        },
        {
          "data": {"name": "labels"},
          "transform": [{"filter": "datum.k == 'b'"}],
          "mark": {"type": "text", "fontSize": 25, "color": "#0000ee", "align": "center", "baseline": "middle", "dy": -2},
          "encoding": {"x": {"field": "i", "type": "quantitative"}, "y": {"field": "p", "type": "quantitative"}, "text": {"field": "t"}}
        },
        {
          "data": {"name": "labels"},
          "transform": [{"filter": "datum.k == 'p'"}],
          "mark": {"type": "text", "fontSize": 17, "color": "#c08cff", "align": "center", "baseline": "middle"},
          "encoding": {"x": {"field": "i", "type": "quantitative"}, "y": {"field": "p", "type": "quantitative"}, "text": {"field": "t"}}
        },
        {
          "data": {"name": "labels"},
          "transform": [{"filter": "datum.k == 'gr'"}],
          "mark": {"type": "text", "fontSize": 36, "color": "#22e022", "align": "center", "baseline": "middle"},
          "encoding": {"x": {"field": "i", "type": "quantitative"}, "y": {"field": "p", "type": "quantitative"}, "text": {"field": "t"}}
        },
        {
          "data": {"name": "segs"},
          "transform": [{"filter": "datum.k == 'fib'"}],
          "mark": {"type": "rule", "color": "#000000", "strokeWidth": 1.5},
          "encoding": {"x": {"field": "i", "type": "quantitative"}, "x2": {"field": "i2"}, "y": {"field": "p", "type": "quantitative"}, "y2": {"field": "p2"}}
        },
        {
          "data": {"name": "fib"},
          "mark": {"type": "rule", "color": "#000000", "strokeWidth": 1},
          "encoding": {"x": {"datum": 243.5, "type": "quantitative"}, "x2": {"datum": 247.6}, "y": {"field": "p", "type": "quantitative"}}
        },
        {
          "data": {"name": "fib"},
          "mark": {"type": "point", "shape": "M0,-0.169L2,-0.169L2,0.169L0,0.169Z", "size": 6400, "filled": true, "opacity": 1, "strokeWidth": 1},
          "encoding": {
            "x": {"datum": 247.6, "type": "quantitative"},
            "y": {"field": "p", "type": "quantitative"},
            "fill": {"field": "k", "type": "nominal", "scale": {"domain": ["b", "g", "w"], "range": ["#c3ccf5", "#d3f5c8", "#ffffff"]}, "legend": null},
            "stroke": {"field": "k", "type": "nominal", "scale": {"domain": ["b", "g", "w"], "range": ["#5a6ad0", "#5aa55a", "#666666"]}, "legend": null}
          }
        },
        {
          "data": {"name": "fib"},
          "mark": {"type": "text", "fontSize": 10, "color": "#000000", "align": "left", "baseline": "middle", "dx": 3},
          "encoding": {"x": {"datum": 247.6, "type": "quantitative"}, "y": {"field": "p", "type": "quantitative"}, "text": {"field": "t"}}
        },
        {
          "data": {"name": "segs"},
          "transform": [{"filter": "datum.k == 'meas'"}],
          "mark": {"type": "rule", "color": "#666666", "strokeWidth": 1.2},
          "encoding": {"x": {"field": "i", "type": "quantitative"}, "x2": {"field": "i2"}, "y": {"field": "p", "type": "quantitative"}, "y2": {"field": "p2"}}
        },
        {
          "data": {"name": "labels"},
          "transform": [{"filter": "datum.k == 'mbox'"}],
          "mark": {"type": "point", "shape": "M-1,-0.28L1,-0.28L1,0.28L-1,0.28Z", "size": 1600, "filled": true, "fill": "#ffffff", "stroke": "#888888", "strokeWidth": 1, "opacity": 1},
          "encoding": {"x": {"field": "i", "type": "quantitative"}, "y": {"field": "p", "type": "quantitative"}}
        },
        {
          "data": {"name": "labels"},
          "transform": [{"filter": "datum.k == 'mbox'"}],
          "mark": {"type": "text", "fontSize": 10.5, "color": "#555555", "align": "center", "baseline": "middle"},
          "encoding": {"x": {"field": "i", "type": "quantitative"}, "y": {"field": "p", "type": "quantitative"}, "text": {"field": "t"}}
        },
        {
          "data": {"name": "labels"},
          "transform": [{"filter": "datum.k == 'm'"}],
          "mark": {"type": "text", "fontSize": 10.5, "color": "#666666", "align": "left", "baseline": "middle"},
          "encoding": {"x": {"field": "i", "type": "quantitative"}, "y": {"field": "p", "type": "quantitative"}, "text": {"field": "t"}}
        },
        {
          "data": {"name": "labels"},
          "transform": [{"filter": "datum.k == 'yw'"}],
          "mark": {"type": "text", "fontSize": 12, "fontWeight": "bold", "color": "#111111", "align": "center", "baseline": "middle"},
          "encoding": {"x": {"field": "i", "type": "quantitative"}, "y": {"field": "p", "type": "quantitative"}, "text": {"field": "t"}}
        },
        {
          "data": {"name": "labels"},
          "transform": [{"filter": "datum.k == 'mw'"}],
          "mark": {"type": "text", "fontSize": 11, "font": "DejaVu Sans", "color": "#333333", "align": "left", "baseline": "middle"},
          "encoding": {"x": {"field": "i", "type": "quantitative"}, "y": {"field": "p", "type": "quantitative"}, "text": {"field": "t"}}
        },
        {
          "data": {"name": "segs"},
          "transform": [{"filter": "datum.k == 'arrowb'"}],
          "mark": {"type": "rule", "color": "#1f3cff", "strokeWidth": 5},
          "encoding": {"x": {"field": "i", "type": "quantitative"}, "x2": {"field": "i2"}, "y": {"field": "p", "type": "quantitative"}, "y2": {"field": "p2"}}
        },
        {
          "data": {"name": "segs"},
          "transform": [{"filter": "datum.k == 'arrowr'"}],
          "mark": {"type": "rule", "color": "#ff1a1a", "strokeWidth": 5},
          "encoding": {"x": {"field": "i", "type": "quantitative"}, "x2": {"field": "i2"}, "y": {"field": "p", "type": "quantitative"}, "y2": {"field": "p2"}}
        },
        {
          "data": {"name": "heads"},
          "mark": {"type": "point", "shape": "triangle-up", "filled": true, "size": 260, "opacity": 1},
          "encoding": {
            "x": {"field": "i", "type": "quantitative"},
            "y": {"field": "p", "type": "quantitative"},
            "angle": {"field": "a", "type": "quantitative", "scale": null},
            "color": {"field": "k", "type": "nominal", "scale": {"domain": ["b", "r"], "range": ["#1f3cff", "#ff1a1a"]}, "legend": null}
          }
        },
        {
          "data": {"name": "ma"},
          "transform": [{"filter": "datum.i == 242"}],
          "mark": {"type": "point", "shape": "M0,0L0.22,-0.24L2,-0.24L2,0.24L0.22,0.24Z", "size": 2500, "filled": true, "fill": "#ffffff", "stroke": "#333333", "strokeWidth": 1, "opacity": 1},
          "encoding": {"x": {"datum": 262.6, "type": "quantitative"}, "y": {"field": "v", "type": "quantitative"}}
        },
        {
          "data": {"name": "ma"},
          "transform": [{"filter": "datum.i == 242"}],
          "mark": {"type": "text", "fontSize": 11.5, "color": "#000000", "align": "left", "baseline": "middle", "dx": 6},
          "encoding": {"x": {"datum": 262.6, "type": "quantitative"}, "y": {"field": "v", "type": "quantitative"}, "text": {"field": "v", "format": ".5f"}}
        },
        {
          "data": {"name": "bars"},
          "transform": [{"filter": "datum.i == 242"}],
          "mark": {"type": "point", "shape": "M0,0L0.22,-0.24L2,-0.24L2,0.24L0.22,0.24Z", "size": 2500, "filled": true, "fill": "#c6c8f2", "stroke": "#6a6ac0", "strokeWidth": 1, "opacity": 1},
          "encoding": {"x": {"datum": 262.6, "type": "quantitative"}, "y": {"field": "c", "type": "quantitative"}}
        },
        {
          "data": {"name": "bars"},
          "transform": [{"filter": "datum.i == 242"}],
          "mark": {"type": "text", "fontSize": 11.5, "color": "#000000", "align": "left", "baseline": "middle", "dx": 6},
          "encoding": {"x": {"datum": 262.6, "type": "quantitative"}, "y": {"field": "c", "type": "quantitative"}, "text": {"field": "c", "format": ".5f"}}
        }
      ]
    },
    {
      "width": 1612,
      "height": 73,
      "title": {"text": "Awesome Osc(34,5)", "anchor": "start", "frame": "group", "offset": -18, "dx": 9, "font": "Liberation Sans", "fontSize": 12, "fontWeight": "bold", "color": "#000000"},
      "layer": [
        {
          "data": {"name": "bars"},
          "transform": [
            {"window": [{"op": "lag", "field": "ao", "as": "prev"}], "sort": [{"field": "i", "order": "ascending"}]},
            {"calculate": "datum.prev == null || datum.ao >= datum.prev ? 'up' : 'down'", "as": "dir"}
          ],
          "mark": {"type": "bar", "width": 4.4},
          "encoding": {
            "x": {"field": "i", "type": "quantitative", "scale": {"domain": [-16.39, 262.6], "nice": false, "zero": false}, "axis": null},
            "y": {"field": "ao", "type": "quantitative", "scale": {"domain": [-0.0267, 0.0108], "nice": false},
              "axis": {"title": null, "orient": "right", "values": [-0.02, -0.01], "format": ".5f", "tickSize": 5, "labelPadding": 2, "labelFontSize": 12}},
            "color": {"field": "dir", "type": "nominal", "scale": {"domain": ["up", "down"], "range": ["#3cb43c", "#b22c2c"]}, "legend": null}
          }
        },
        {
          "data": {"values": [{}]},
          "mark": {"type": "rule", "color": "#000000", "strokeWidth": 1, "strokeDash": [3, 2]},
          "encoding": {"y": {"datum": 0, "type": "quantitative"}}
        },
        {
          "data": {"name": "bars"},
          "transform": [{"filter": "datum.i == 242"}],
          "mark": {"type": "point", "shape": "M0,0L0.2,-0.22L2,-0.22L2,0.22L0.2,0.22Z", "size": 3025, "filled": true, "fill": "#ffffff", "stroke": "#333333", "strokeWidth": 1, "opacity": 1},
          "encoding": {"x": {"datum": 262.6, "type": "quantitative"}, "y": {"field": "ao", "type": "quantitative"}}
        },
        {
          "data": {"name": "bars"},
          "transform": [{"filter": "datum.i == 242"}],
          "mark": {"type": "text", "fontSize": 12, "color": "#000000", "align": "left", "baseline": "middle", "dx": 6},
          "encoding": {"x": {"datum": 262.6, "type": "quantitative"}, "y": {"field": "ao", "type": "quantitative"}, "text": {"field": "ao", "format": ".5f"}}
        }
      ]
    }
  ]
}
